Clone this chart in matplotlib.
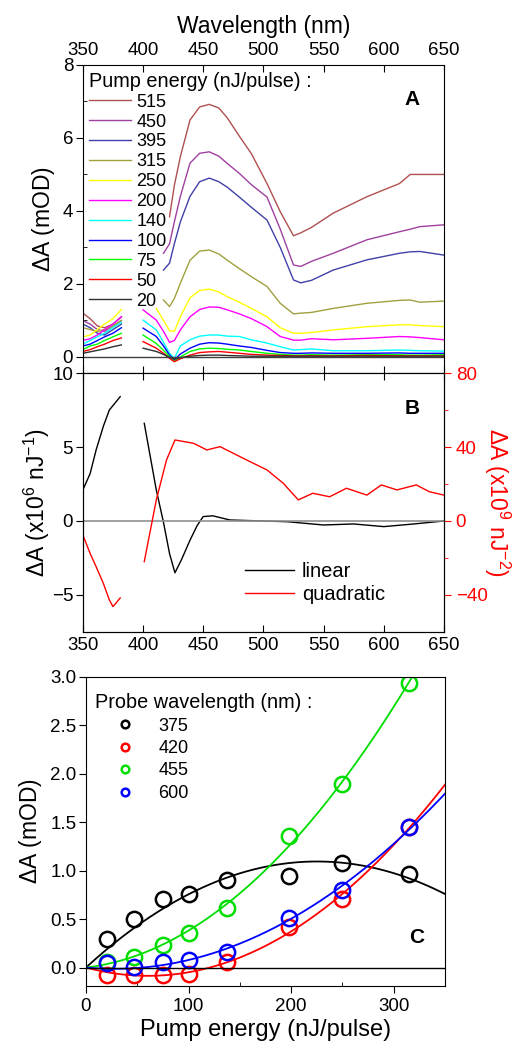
import numpy as np
import matplotlib
matplotlib.use('Agg')
import matplotlib.pyplot as plt

plt.rcParams['font.family'] = ['Liberation Sans', 'DejaVu Sans']
plt.rcParams['mathtext.fontset'] = 'custom'
plt.rcParams['mathtext.rm'] = 'Liberation Sans'
plt.rcParams['mathtext.it'] = 'Liberation Sans:italic'
plt.rcParams['mathtext.bf'] = 'Liberation Sans:bold'

# ---- panel A : transient spectra for each pump energy ----
pump_labels = ['515', '450', '395', '315', '250', '200', '140', '100', '75', '50', '20']
pump_colors = ['#b05050', '#a040a0', '#4040a8', '#a0a040', '#ffff00', '#ff00ff',
               '#00ffff', '#0000ff', '#00ff00', '#ff0000', '#303030']

wl_short = [350, 356, 362, 368, 375, 382]
a_short_515 = [1.2, 1.05, 0.85, 0.8, 0.9, 1.1]
a_short_450 = [1.0, 0.9, 0.75, 0.7, 0.85, 1.0]
a_short_395 = [0.9, 0.8, 0.65, 0.6, 0.75, 0.9]
a_short_315 = [0.8, 0.75, 0.7, 0.75, 0.85, 1.0]
a_short_250 = [0.55, 0.6, 0.75, 0.9, 1.05, 1.3]
a_short_200 = [0.45, 0.5, 0.6, 0.75, 0.9, 1.1]
a_short_140 = [0.35, 0.45, 0.55, 0.65, 0.8, 0.95]
a_short_100 = [0.3, 0.35, 0.45, 0.55, 0.65, 0.8]
a_short_75 = [0.2, 0.3, 0.35, 0.45, 0.55, 0.65]
a_short_50 = [0.15, 0.2, 0.28, 0.35, 0.45, 0.52]
a_short_20 = [0.1, 0.14, 0.18, 0.22, 0.28, 0.33]

nan = np.nan
wl_long = [400, 411, 417, 422, 426, 431, 439, 447, 455, 463, 470, 480, 490, 503, 514,
           525, 531, 540, 558, 586, 613, 622, 630, 650]
a_long_515 = [nan, nan, nan, 3.84, 4.7, 5.49, 6.49, 6.85, 6.92, 6.82, 6.55, 6.05, 5.57, 4.75, 3.98,
              3.32, 3.40, 3.55, 3.94, 4.39, 4.75, 5.0, 5.0, 5.0]
a_long_450 = [nan, nan, 2.84, 3.1, 3.7, 4.4, 5.31, 5.58, 5.62, 5.5, 5.3, 5.03, 4.72, 4.38, 3.5,
              2.52, 2.48, 2.62, 2.84, 3.21, 3.43, 3.5, 3.57, 3.62]
a_long_395 = [nan, nan, 2.38, 2.57, 3.1, 3.7, 4.4, 4.8, 4.9, 4.8, 4.65, 4.38, 4.1, 3.75, 3.0,
              2.11, 2.03, 2.1, 2.38, 2.66, 2.84, 2.88, 2.89, 2.79]
a_long_315 = [nan, nan, 1.56, 1.38, 1.6, 2.02, 2.65, 2.9, 2.93, 2.82, 2.65, 2.42, 2.2, 1.93, 1.47,
              1.18, 1.2, 1.22, 1.33, 1.47, 1.55, 1.56, 1.5, 1.53]
a_long_250 = [nan, 1.33, 1.0, 0.72, 0.7, 1.1, 1.62, 1.82, 1.86, 1.78, 1.65, 1.5, 1.33, 1.1, 0.8,
              0.65, 0.65, 0.67, 0.74, 0.83, 0.88, 0.88, 0.86, 0.83]
a_long_200 = [1.29, 1.01, 0.7, 0.40, 0.45, 0.74, 1.1, 1.3, 1.37, 1.36, 1.29, 1.18, 1.05, 0.83, 0.56,
              0.46, 0.46, 0.5, 0.47, 0.51, 0.56, 0.55, 0.53, 0.47]
a_long_140 = [1.01, 0.74, 0.4, 0.10, -0.04, 0.3, 0.47, 0.57, 0.60, 0.60, 0.57, 0.56, 0.47, 0.38, 0.28,
              0.19, 0.2, 0.22, 0.17, 0.17, 0.19, 0.18, 0.17, 0.16]
a_long_100 = [0.79, 0.56, 0.3, 0.05, -0.08, 0.08, 0.24, 0.35, 0.39, 0.38, 0.35, 0.3, 0.26, 0.18, 0.12,
              0.10, 0.1, 0.11, 0.1, 0.1, 0.11, 0.1, 0.1, 0.1]
a_long_75 = [0.60, 0.37, 0.18, 0.01, -0.12, 0.0, 0.15, 0.22, 0.24, 0.23, 0.21, 0.19, 0.15, 0.1, 0.07,
             0.05, 0.05, 0.06, 0.05, 0.06, 0.06, 0.05, 0.05, 0.06]
a_long_50 = [0.42, 0.24, 0.1, -0.04, -0.13, -0.05, 0.05, 0.12, 0.14, 0.15, 0.13, 0.1, 0.07, 0.05, 0.04,
             0.03, 0.03, 0.03, 0.03, 0.04, 0.03, 0.03, 0.03, 0.03]
a_long_20 = [0.24, 0.15, 0.07, -0.01, -0.06, -0.02, 0.02, 0.04, 0.05, 0.05, 0.04, 0.03, 0.02, 0.02, 0.02,
             0.02, 0.02, 0.02, 0.02, 0.02, 0.02, 0.02, 0.02, 0.02]

a_short = [a_short_515, a_short_450, a_short_395, a_short_315, a_short_250, a_short_200,
           a_short_140, a_short_100, a_short_75, a_short_50, a_short_20]
a_long = [a_long_515, a_long_450, a_long_395, a_long_315, a_long_250, a_long_200,
          a_long_140, a_long_100, a_long_75, a_long_50, a_long_20]

# ---- panel B : linear and quadratic components ----
lin_wl_short = [350, 356, 361, 367, 372, 381]
lin_short = [2.1, 3.2, 4.8, 6.4, 7.5, 8.4]
lin_wl_long = [401, 405, 411, 417, 422, 426.5, 432, 439, 445, 450, 458, 472, 500, 520, 550, 575, 600, 625, 650]
lin_long = [6.6, 4.8, 2.1, -0.1, -2.2, -3.5, -2.6, -1.3, -0.3, 0.3, 0.35, 0.07, 0.0, -0.05, -0.27, -0.2, -0.38, -0.2, 0.0]

quad_wl_short = [350, 356, 361, 367, 372, 375, 381]
quad_short = [-7.6, -17.5, -24.7, -33.7, -42.7, -46.3, -41.6]
quad_wl_long = [401, 411, 419.5, 426.5, 442, 453, 464, 486, 503, 516.5, 529, 541, 555, 569, 586, 598,
                611, 627, 638, 650]
quad_long = [-22, 11.4, 33, 43.8, 42, 38.4, 40.2, 33, 27.6, 20.4, 11.4, 15, 13.1, 17.7, 14, 19.5,
             16.8, 19.5, 15.8, 14]

# ---- panel C : dA vs pump energy ----
energy = [20, 47, 75, 100, 137, 198, 250, 315]
probe_labels = ['375', '420', '455', '600']
probe_colors = ['black', 'red', '#00dd00', 'blue']
da_375 = [0.29, 0.50, 0.71, 0.76, 0.90, 0.95, 1.08, 0.97]
da_420 = [-0.08, -0.08, -0.08, -0.07, 0.055, 0.42, 0.71, 1.45]
da_455 = [0.055, 0.107, 0.23, 0.355, 0.61, 1.355, 1.89, 2.94]
da_600 = [0.045, 0.01, 0.06, 0.08, 0.16, 0.51, 0.80, 1.45]
da_all = [da_375, da_420, da_455, da_600]

TICK = 13.5
LAB = 16.5

fig = plt.figure(figsize=(5.18, 10.46), dpi=100)
axA = fig.add_axes([0.160, 0.6434, 0.697, 0.2945])
axB = fig.add_axes([0.160, 0.3958, 0.697, 0.2476])
axC = fig.add_axes([0.166, 0.0574, 0.693, 0.2954])

# panel A
for lab, col, ys, yl in zip(pump_labels, pump_colors, a_short, a_long):
    axA.plot(wl_short, ys, color=col, lw=1.0)
    axA.plot(wl_long, yl, color=col, lw=1.0, label=lab)
axA.axhline(0, color='#404040', lw=1.0)
axA.set_xlim(350, 650)
axA.set_ylim(-0.44, 8)
axA.set_yticks([0, 2, 4, 6, 8])
axA.set_yticks([1, 3, 5, 7], minor=True)
axA.xaxis.tick_top()
axA.xaxis.set_label_position('top')
axA.set_xticks([350, 400, 450, 500, 550, 600, 650])
axA.set_xlabel('Wavelength (nm)', fontsize=LAB, labelpad=7)
axA.set_ylabel(r'$\Delta$A (mOD)', fontsize=LAB, labelpad=4)
axA.tick_params(axis='both', labelsize=TICK)
axA.tick_params(axis='x', which='major', direction='in', length=5, top=True, bottom=True, pad=4)
axA.tick_params(axis='y', which='major', direction='out', length=5, pad=2)
axA.tick_params(axis='y', which='minor', direction='in', length=3)
axA.text(0.89, 0.87, 'A', transform=axA.transAxes, fontsize=15, fontweight='bold')
legA = axA.legend(loc='upper left', bbox_to_anchor=(-0.01, 1.01), frameon=False, fontsize=13,
                  title='Pump energy (nJ/pulse) :', title_fontsize=14.3, handlelength=2.3,
                  handletextpad=0.3, labelspacing=0.16, borderaxespad=0.15, alignment='left')

# panel B
axB.plot(lin_wl_short, lin_short, color='black', lw=1.0)
axB.plot(lin_wl_long, lin_long, color='black', lw=1.0, label='linear')
axB.axhline(0, color='#909090', lw=1.2)
axB.set_xlim(350, 650)
axB.set_ylim(-7.5, 10)
axB.set_yticks([-5, 0, 5, 10])
axB.set_xticks([350, 400, 450, 500, 550, 600, 650])
axB.set_ylabel(r'$\Delta$A (x10$^6$ nJ$^{-1}$)', fontsize=LAB, labelpad=0)
axB.tick_params(axis='both', labelsize=TICK, direction='out', length=5)
axB.tick_params(axis='y', pad=2)
axB.tick_params(axis='x', top=True, direction='in')
axB.text(0.89, 0.84, 'B', transform=axB.transAxes, fontsize=15, fontweight='bold')

axB2 = axB.twinx()
axB2.plot(quad_wl_short, quad_short, color='red', lw=1.0)
axB2.plot(quad_wl_long, quad_long, color='red', lw=1.0, label='quadratic')
axB2.set_ylim(-60, 80)
axB2.set_yticks([-40, 0, 40, 80])
axB2.set_yticks([-20, 20, 60], minor=True)
axB2.tick_params(axis='y', colors='red', labelsize=TICK, direction='out', length=5)
axB2.tick_params(axis='y', which='minor', colors='red', direction='out', length=3)
axB2.set_ylabel(r'$\Delta$A (x10$^9$ nJ$^{-2}$)', fontsize=LAB, color='red', rotation=270, labelpad=18)
h1, l1 = axB.get_legend_handles_labels()
h2, l2 = axB2.get_legend_handles_labels()
axB2.legend(h1 + h2, l1 + l2, loc='upper left', bbox_to_anchor=(0.40, 0.34), frameon=False,
            fontsize=14.5, handlelength=2.4, handletextpad=0.4, labelspacing=0.2)

# panel C with fits dA = a*E + b*E^2
e = np.array(energy, dtype=float)
e_fit = np.linspace(0, 350, 200)
for lab, col, da in zip(probe_labels, probe_colors, da_all):
    coef = np.linalg.lstsq(np.column_stack([e, e ** 2]), np.array(da), rcond=None)[0]
    axC.plot(e_fit, coef[0] * e_fit + coef[1] * e_fit ** 2, color=col, lw=1.3)
    axC.plot(energy, da, 'o', mfc='none', mec=col, ms=11, mew=1.8, ls='none', label=lab)
axC.axhline(0, color='black', lw=1.0)
axC.set_xlim(0, 350)
axC.set_ylim(-0.19, 3.0)
axC.set_xticks([0, 100, 200, 300])
axC.set_xticks([50, 150, 250, 350], minor=True)
axC.set_yticks([0, 0.5, 1.0, 1.5, 2.0, 2.5, 3.0])
axC.set_yticklabels(['0.0', '0.5', '1.0', '1.5', '2.0', '2.5', '3.0'])
axC.set_xlabel('Pump energy (nJ/pulse)', fontsize=17, labelpad=3)
axC.set_ylabel(r'$\Delta$A (mOD)', fontsize=LAB, labelpad=4)
axC.tick_params(axis='both', labelsize=TICK, direction='out', length=5)
axC.tick_params(axis='y', pad=2)
axC.tick_params(axis='x', which='minor', direction='in', length=3)
axC.text(0.9, 0.14, 'C', transform=axC.transAxes, fontsize=15, fontweight='bold')
legC = axC.legend(loc='upper left', bbox_to_anchor=(-0.02, 1.0), frameon=False, fontsize=13,
                  title='Probe wavelength (nm) :', title_fontsize=14.3, markerscale=0.5,
                  handlelength=3.3, handletextpad=0.2, labelspacing=0.3, alignment='left')

fig.savefig('out.png', dpi=100)
